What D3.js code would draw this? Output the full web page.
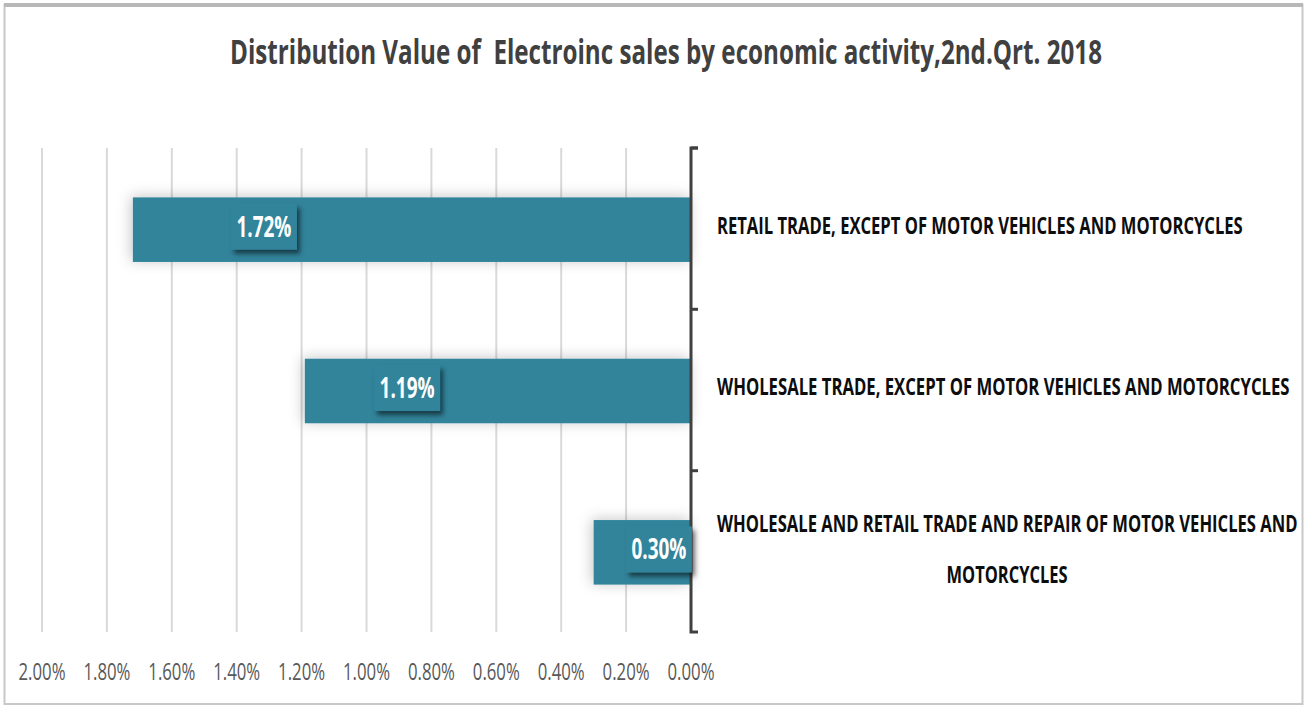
<!DOCTYPE html>
<html>
<head>
<meta charset="utf-8">
<script src="https://cdn.jsdelivr.net/npm/d3@7"></script>
<style>
html,body{margin:0;padding:0;background:#fff;}
svg{display:block;}
text{white-space:pre;}
</style>
</head>
<body>
<svg id="chart" width="1305" height="706"></svg>
<script>
const title = "Distribution Value of  Electroinc sales by economic activity,2nd.Qrt. 2018";
const categories = [
  "RETAIL TRADE, EXCEPT OF MOTOR VEHICLES AND MOTORCYCLES",
  "WHOLESALE TRADE, EXCEPT OF MOTOR VEHICLES AND MOTORCYCLES",
  "WHOLESALE AND RETAIL TRADE AND REPAIR OF MOTOR VEHICLES AND MOTORCYCLES"
];
const values = [0.0172, 0.0119, 0.0030];
const valueLabels = ["1.72%", "1.19%", "0.30%"];
const tickValues = [0.02, 0.018, 0.016, 0.014, 0.012, 0.010, 0.008, 0.006, 0.004, 0.002, 0];
const tickLabels = ["2.00%", "1.80%", "1.60%", "1.40%", "1.20%", "1.00%", "0.80%", "0.60%", "0.40%", "0.20%", "0.00%"];

const svg = d3.select("#chart");
const W = 1305, H = 706;
const font = "'Open Sans','Liberation Sans',sans-serif";

// place a text at (x,y) with given anchor and squeeze it horizontally to a target width
function fitText(parent, str, px, py, anchor, target, attrs) {
  const t = parent.append("text").attr("x", 0).attr("y", 0).attr("text-anchor", anchor);
  Object.entries(attrs).forEach(([k, v]) => t.attr(k, v));
  t.text(str);
  const w = t.node().getComputedTextLength();
  const s = w > 0 ? target / w : 1;
  t.attr("transform", `translate(${px},${py}) scale(${s},1)`);
  return t;
}

// defs
const defs = svg.append("defs");
const fBar = defs.append("filter").attr("id","barShadow").attr("x","-20%").attr("y","-40%").attr("width","140%").attr("height","180%");
fBar.append("feDropShadow").attr("dx",-2).attr("dy",-1).attr("stdDeviation",7).attr("flood-color","#000").attr("flood-opacity",0.22);
const fLab = defs.append("filter").attr("id","labShadow").attr("x","-30%").attr("y","-30%").attr("width","170%").attr("height","170%");
fLab.append("feDropShadow").attr("dx",3).attr("dy",4).attr("stdDeviation",2.5).attr("flood-color","#000").attr("flood-opacity",0.55);

// frame
svg.append("rect").attr("x",0).attr("y",0).attr("width",W).attr("height",H).attr("fill","#fff");
svg.append("rect").attr("x",4.5).attr("y",5).attr("width",W-7).attr("height",H-7)
  .attr("fill","none").attr("stroke","#c8c8c8").attr("stroke-width",2);
svg.append("rect").attr("x",4).attr("y",3).attr("width",W-6).attr("height",4).attr("fill","#b8b8b8");

// title
fitText(svg, title, 666, 64, "middle", 872,
  {"font-family": font, "font-weight": "bold", "font-size": 34, "fill": "#404040"});

const x = d3.scaleLinear().domain([0, 0.02]).range([691, 42]);
const y = d3.scaleBand().domain(categories).range([148, 632]).padding(0);
const barH = y.bandwidth() * 0.4;

// gridlines
svg.append("g").selectAll("line").data(tickValues.filter(v => v > 0)).join("line")
  .attr("x1", d => x(d)).attr("x2", d => x(d))
  .attr("y1", 148).attr("y2", 632)
  .attr("stroke", "#d9d9d9").attr("stroke-width", 2);

// x tick labels
const tg = svg.append("g");
tickValues.forEach((d, i) => {
  fitText(tg, tickLabels[i], x(d), 680, "middle", 47,
    {"font-family": font, "font-size": 23, "fill": "#595959"});
});

// bars
svg.append("g").selectAll("rect").data(values).join("rect")
  .attr("x", d => x(d)).attr("width", d => x(0) - x(d))
  .attr("y", (d,i) => y(categories[i]) + (y.bandwidth() - barH)/2 + 1)
  .attr("height", barH)
  .attr("fill", "#31849b")
  .attr("filter","url(#barShadow)");

// y axis
const yAxis = d3.axisRight(y).tickSize(7).tickFormat("");
const gy = svg.append("g").attr("transform", `translate(${x(0)},0)`).call(yAxis);
gy.select(".domain").attr("stroke","#404040").attr("stroke-width",3)
  .attr("d", `M7,148H0V632H7`);
gy.selectAll(".tick").remove();
gy.append("g").selectAll("line").data([148, 309.3, 470.7]).join("line")
  .attr("x1",0).attr("x2",7).attr("y1",d=>d).attr("y2",d=>d)
  .attr("stroke","#404040").attr("stroke-width",3);

// value labels (manually positioned like the reference)
const labelAt = [0.01316, 0.00875, 0.00099];
const lw = 66, lh = 46;
values.forEach((d, i) => {
  const cx = x(labelAt[i]), cy = y(categories[i]) + y.bandwidth()/2 - 2;
  const g = svg.append("g");
  g.append("rect").attr("x", cx - lw/2).attr("y", cy - lh/2).attr("width", lw).attr("height", lh)
    .attr("fill","#31849b").attr("filter","url(#labShadow)");
  fitText(g, valueLabels[i], cx, cy + 10, "middle", 55,
    {"font-family": font, "font-weight": "bold", "font-size": 28, "fill": "#fff"});
});

// category labels
const catAttrs = {"font-family": font, "font-weight": "bold", "font-size": 24, "fill": "#0d0d0d"};
const catG = svg.append("g");
fitText(catG, categories[0], 717, y(categories[0]) + y.bandwidth()/2 + 5, "start", 526, catAttrs);
fitText(catG, categories[1], 717, y(categories[1]) + y.bandwidth()/2 + 5, "start", 573, catAttrs);
const c3 = categories[2];
const split = c3.lastIndexOf(" ");
fitText(catG, c3.slice(0, split), 717, y(categories[2]) + y.bandwidth()/2 - 19, "start", 581, catAttrs);
fitText(catG, c3.slice(split + 1), 1007, y(categories[2]) + y.bandwidth()/2 + 32, "middle", 121, catAttrs);
</script>
</body>
</html>
